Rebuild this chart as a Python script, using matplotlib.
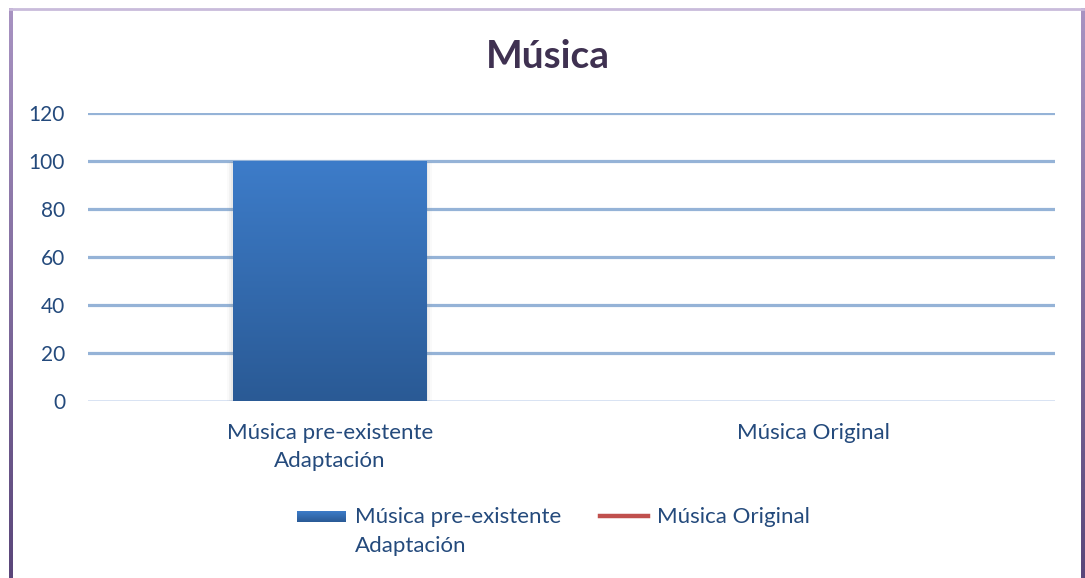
import matplotlib.pyplot as plt
import numpy as np
from matplotlib.patches import Rectangle
from matplotlib.lines import Line2D
from matplotlib.colors import LinearSegmentedColormap

plt.rcParams['font.family'] = ['Lato', 'DejaVu Sans']

# data
categories = ['Música pre-existente\nAdaptación', 'Música Original']
bar_series = 'Música pre-existente\nAdaptación'
bar_values = [100, 0]
line_series = 'Música Original'
line_values = [np.nan, np.nan]   # no visible points in the picture
y_ticks = [0, 20, 40, 60, 80, 100, 120]

W, H = 1085, 578
fig = plt.figure(figsize=(W / 100, H / 100), dpi=100)

def fx(px):
    return px / W

def fy(py):
    return 1 - py / H

text_col = '#244A7C'
grid_col = '#95B3D7'
fs = 16

ax = fig.add_axes([fx(88), fy(401), fx(1055) - fx(88), fy(113) - fy(401)])
ax.set_xlim(-0.5, 1.5)
ax.set_ylim(0, 120)

x = np.arange(len(categories))
bars = ax.bar(x, bar_values, width=0.4, color='#3566A8', zorder=3)

# vertical gradient on the bars + a soft shadow
cmap = LinearSegmentedColormap.from_list('bar', ['#2A5A95', '#3D7CC9'])
grad = np.linspace(0, 1, 256).reshape(-1, 1)
for b in bars:
    if b.get_height() <= 0:
        continue
    x0, w, h = b.get_x(), b.get_width(), b.get_height()
    for k, a in zip([0.012, 0.008, 0.004], [0.04, 0.06, 0.08]):
        ax.add_patch(Rectangle((x0 - k, 0), w + 2 * k, h - 0.3, color='#808080',
                               alpha=a, lw=0, zorder=2.5))
    im = ax.imshow(grad, cmap=cmap, origin='lower', aspect='auto',
                   extent=[x0, x0 + w, 0, h], zorder=3.5)
    im.set_clip_path(b)
ax.set_xlim(-0.5, 1.5)
ax.set_ylim(0, 120)

ax.plot(x, line_values, color='#C0504D', lw=3, zorder=4)

ax.set_yticks(y_ticks)
ax.set_xticks(x)
ax.set_xticklabels(categories, fontsize=fs, color=text_col)
for lab in ax.get_xticklabels():
    lab.set_linespacing(1.5)
    lab.set_va('top')
ax.tick_params(axis='x', length=0, pad=16)
ax.tick_params(axis='y', length=0, pad=16.5, labelsize=15, labelcolor=text_col)

ax.yaxis.grid(True, color=grid_col, lw=2.3, zorder=1)
gls = ax.get_ygridlines()
gls[0].set_color('#D5E1F2')
gls[0].set_linewidth(1.3)
for s in ax.spines.values():
    s.set_visible(False)

fig.text(fx(548), fy(57), 'Música', fontsize=28, fontweight='bold',
         color='#3F3151', ha='center', va='center')

# legend drawn by hand to match layout
leg_grad = fig.add_axes([fx(297), fy(522), fx(346) - fx(297), fy(511) - fy(522)])
leg_grad.imshow(grad, cmap=cmap, origin='lower', aspect='auto')
leg_grad.axis('off')
fig.text(fx(355), fy(507), bar_series, fontsize=fs, color=text_col,
         ha='left', va='top', linespacing=1.55)
fig.lines.append(Line2D([fx(600), fx(648)], [fy(516), fy(516)], color='#C0504D',
                        lw=3.2, transform=fig.transFigure))
fig.text(fx(657), fy(507), line_series, fontsize=fs, color=text_col,
         ha='left', va='top')

# frame around the chart
fig.lines.append(Line2D([fx(10), fx(1083)], [fy(8.5), fy(8.5)], color='#C9BBDB',
                        lw=2, transform=fig.transFigure))
border_cmap = LinearSegmentedColormap.from_list('bd', ['#5A467A', '#A893C2'])
for left in (9, 1081):
    bx = fig.add_axes([fx(left), 0, fx(4), fy(8)])
    bx.imshow(grad, cmap=border_cmap, origin='lower', aspect='auto')
    bx.axis('off')

fig.savefig('out.png', dpi=100)
